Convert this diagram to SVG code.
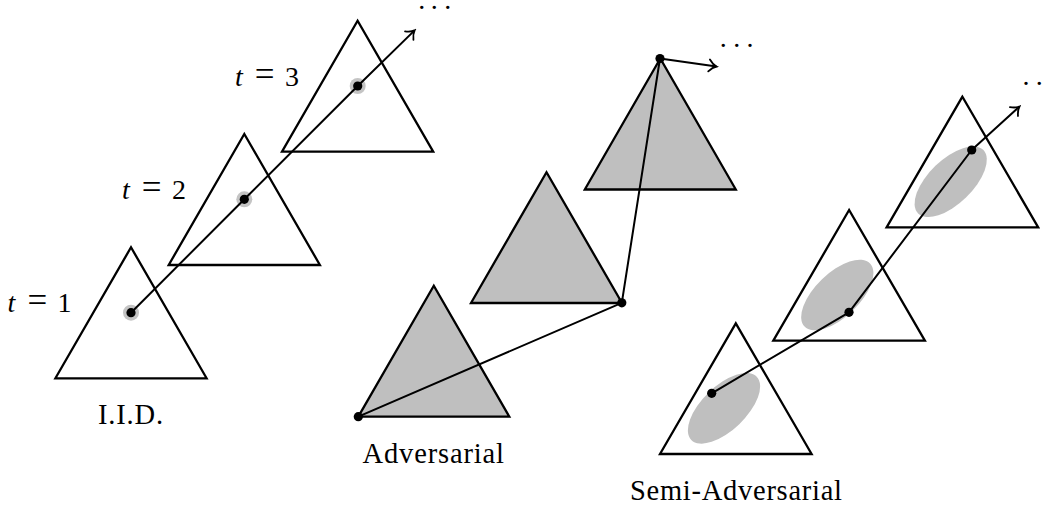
<svg xmlns="http://www.w3.org/2000/svg" width="1049" height="505" viewBox="0 0 1049 505">
<style>
  .tri { stroke: #000; stroke-width: 2.3; stroke-linejoin: miter; }
  .open { fill: #fff; }
  .shade { fill: #bfbfbf; }
  .ell { fill: #bfbfbf; stroke: none; }
  .halo { fill: #c4c4c4; }
  .conn { fill: none; stroke: #000; stroke-width: 2; stroke-linejoin: round; }
  .dot { fill: #000; }
  .lbl { font-family: "Liberation Serif", "Times New Roman", serif; font-size: 28.5px; fill: #000; }
  .math { font-family: "Liberation Serif", "Times New Roman", serif; font-size: 28px; fill: #000; }
  .it { font-style: italic; }
  .eq { font-size: 35px; }
</style>
<defs>
  <marker id="arr" viewBox="-10 -8 12 16" refX="0" refY="0" markerWidth="12" markerHeight="16" orient="auto" markerUnits="userSpaceOnUse">
    <path d="M-7.5,-6 C-5,-2.8 -2,-0.7 0,0 C-2,0.7 -5,2.8 -7.5,6" fill="none" stroke="#000" stroke-width="1.8" stroke-linecap="round"/>
  </marker>
</defs>

<!-- I.I.D. column -->
<g id="iid-t1">
  <polygon class="tri open" points="131,247.3 55.4,378.3 206.6,378.3"/>
  <circle class="halo" cx="131" cy="312.7" r="8"/>
</g>
<g id="iid-t2">
  <polygon class="tri open" points="244.3,134 168.7,265 319.9,265"/>
  <circle class="halo" cx="244.3" cy="199.3" r="8"/>
</g>
<g id="iid-t3">
  <polygon class="tri open" points="357.6,20.7 282,151.7 433.2,151.7"/>
  <circle class="halo" cx="357.7" cy="86" r="8"/>
</g>

<!-- Adversarial column -->
<g id="adv-t1">
  <polygon class="tri shade" points="433.8,285.7 358.3,416.7 509.3,416.7"/>
</g>
<g id="adv-t2">
  <polygon class="tri shade" points="546.5,172.2 471,303 622,303"/>
</g>
<g id="adv-t3">
  <polygon class="tri shade" points="660.3,58.5 584.8,189.5 735.8,189.5"/>
</g>

<!-- Semi-Adversarial column -->
<g id="semi-t1">
  <polygon class="tri open" points="735.8,323.3 660,454 811.6,454"/>
  <ellipse class="ell" cx="724" cy="408.3" rx="45.5" ry="22" transform="rotate(-44 724 408.3)"/>
</g>
<g id="semi-t2">
  <polygon class="tri open" points="849.1,210 773.3,340.7 924.9,340.7"/>
  <ellipse class="ell" cx="837.3" cy="295" rx="45.5" ry="22" transform="rotate(-44 837.3 295)"/>
</g>
<g id="semi-t3">
  <polygon class="tri open" points="962.4,96.7 886.6,227.4 1038.2,227.4"/>
  <ellipse class="ell" cx="950.7" cy="181.7" rx="45.5" ry="22" transform="rotate(-44 950.7 181.7)"/>
</g>

<!-- connectors -->
<g id="connectors">
  <polyline class="conn" points="131,312.7 244.3,199.3 357.7,86 414.6,30.4" marker-end="url(#arr)"/>
  <circle class="dot" cx="131" cy="312.7" r="4.6"/>
  <circle class="dot" cx="244.3" cy="199.3" r="4.6"/>
  <circle class="dot" cx="357.7" cy="86" r="4.6"/>

  <polyline class="conn" points="358.3,416.7 621.8,302.8 660,58.5 716.5,66.5" marker-end="url(#arr)"/>
  <circle class="dot" cx="358.3" cy="416.7" r="4.6"/>
  <circle class="dot" cx="621.8" cy="302.8" r="4.6"/>
  <circle class="dot" cx="660" cy="58.5" r="4.6"/>

  <polyline class="conn" points="711.7,393.3 849,312.3 971.7,150 1019.5,106.5" marker-end="url(#arr)"/>
  <circle class="dot" cx="711.7" cy="393.3" r="4.6"/>
  <circle class="dot" cx="849" cy="312.3" r="4.6"/>
  <circle class="dot" cx="971.7" cy="150" r="4.6"/>
</g>

<!-- ellipsis dots -->
<text class="math" x="418.2 430.8 444.2" y="9">...</text>
<text class="math" x="719.8 733.2 746.5" y="46.8">...</text>
<text class="math" x="1022.5 1035.8" y="84.5">..</text>

<!-- time labels -->
<text class="math" y="311.7"><tspan class="it" x="7.5">t</tspan><tspan class="eq" x="27.4">=</tspan><tspan x="57.5">1</tspan></text>
<text class="math" y="199"><tspan class="it" x="121.9">t</tspan><tspan class="eq" x="141.8">=</tspan><tspan x="171.9">2</tspan></text>
<text class="math" y="86"><tspan class="it" x="234.9">t</tspan><tspan class="eq" x="254.8">=</tspan><tspan x="284.9">3</tspan></text>

<!-- column labels -->
<text class="lbl" x="98" y="424" textLength="65" lengthAdjust="spacing">I.I.D.</text>
<text class="lbl" x="362.5" y="463.3" textLength="141.5" lengthAdjust="spacing">Adversarial</text>
<text class="lbl" x="630" y="500" textLength="212" lengthAdjust="spacing">Semi-Adversarial</text>
</svg>
